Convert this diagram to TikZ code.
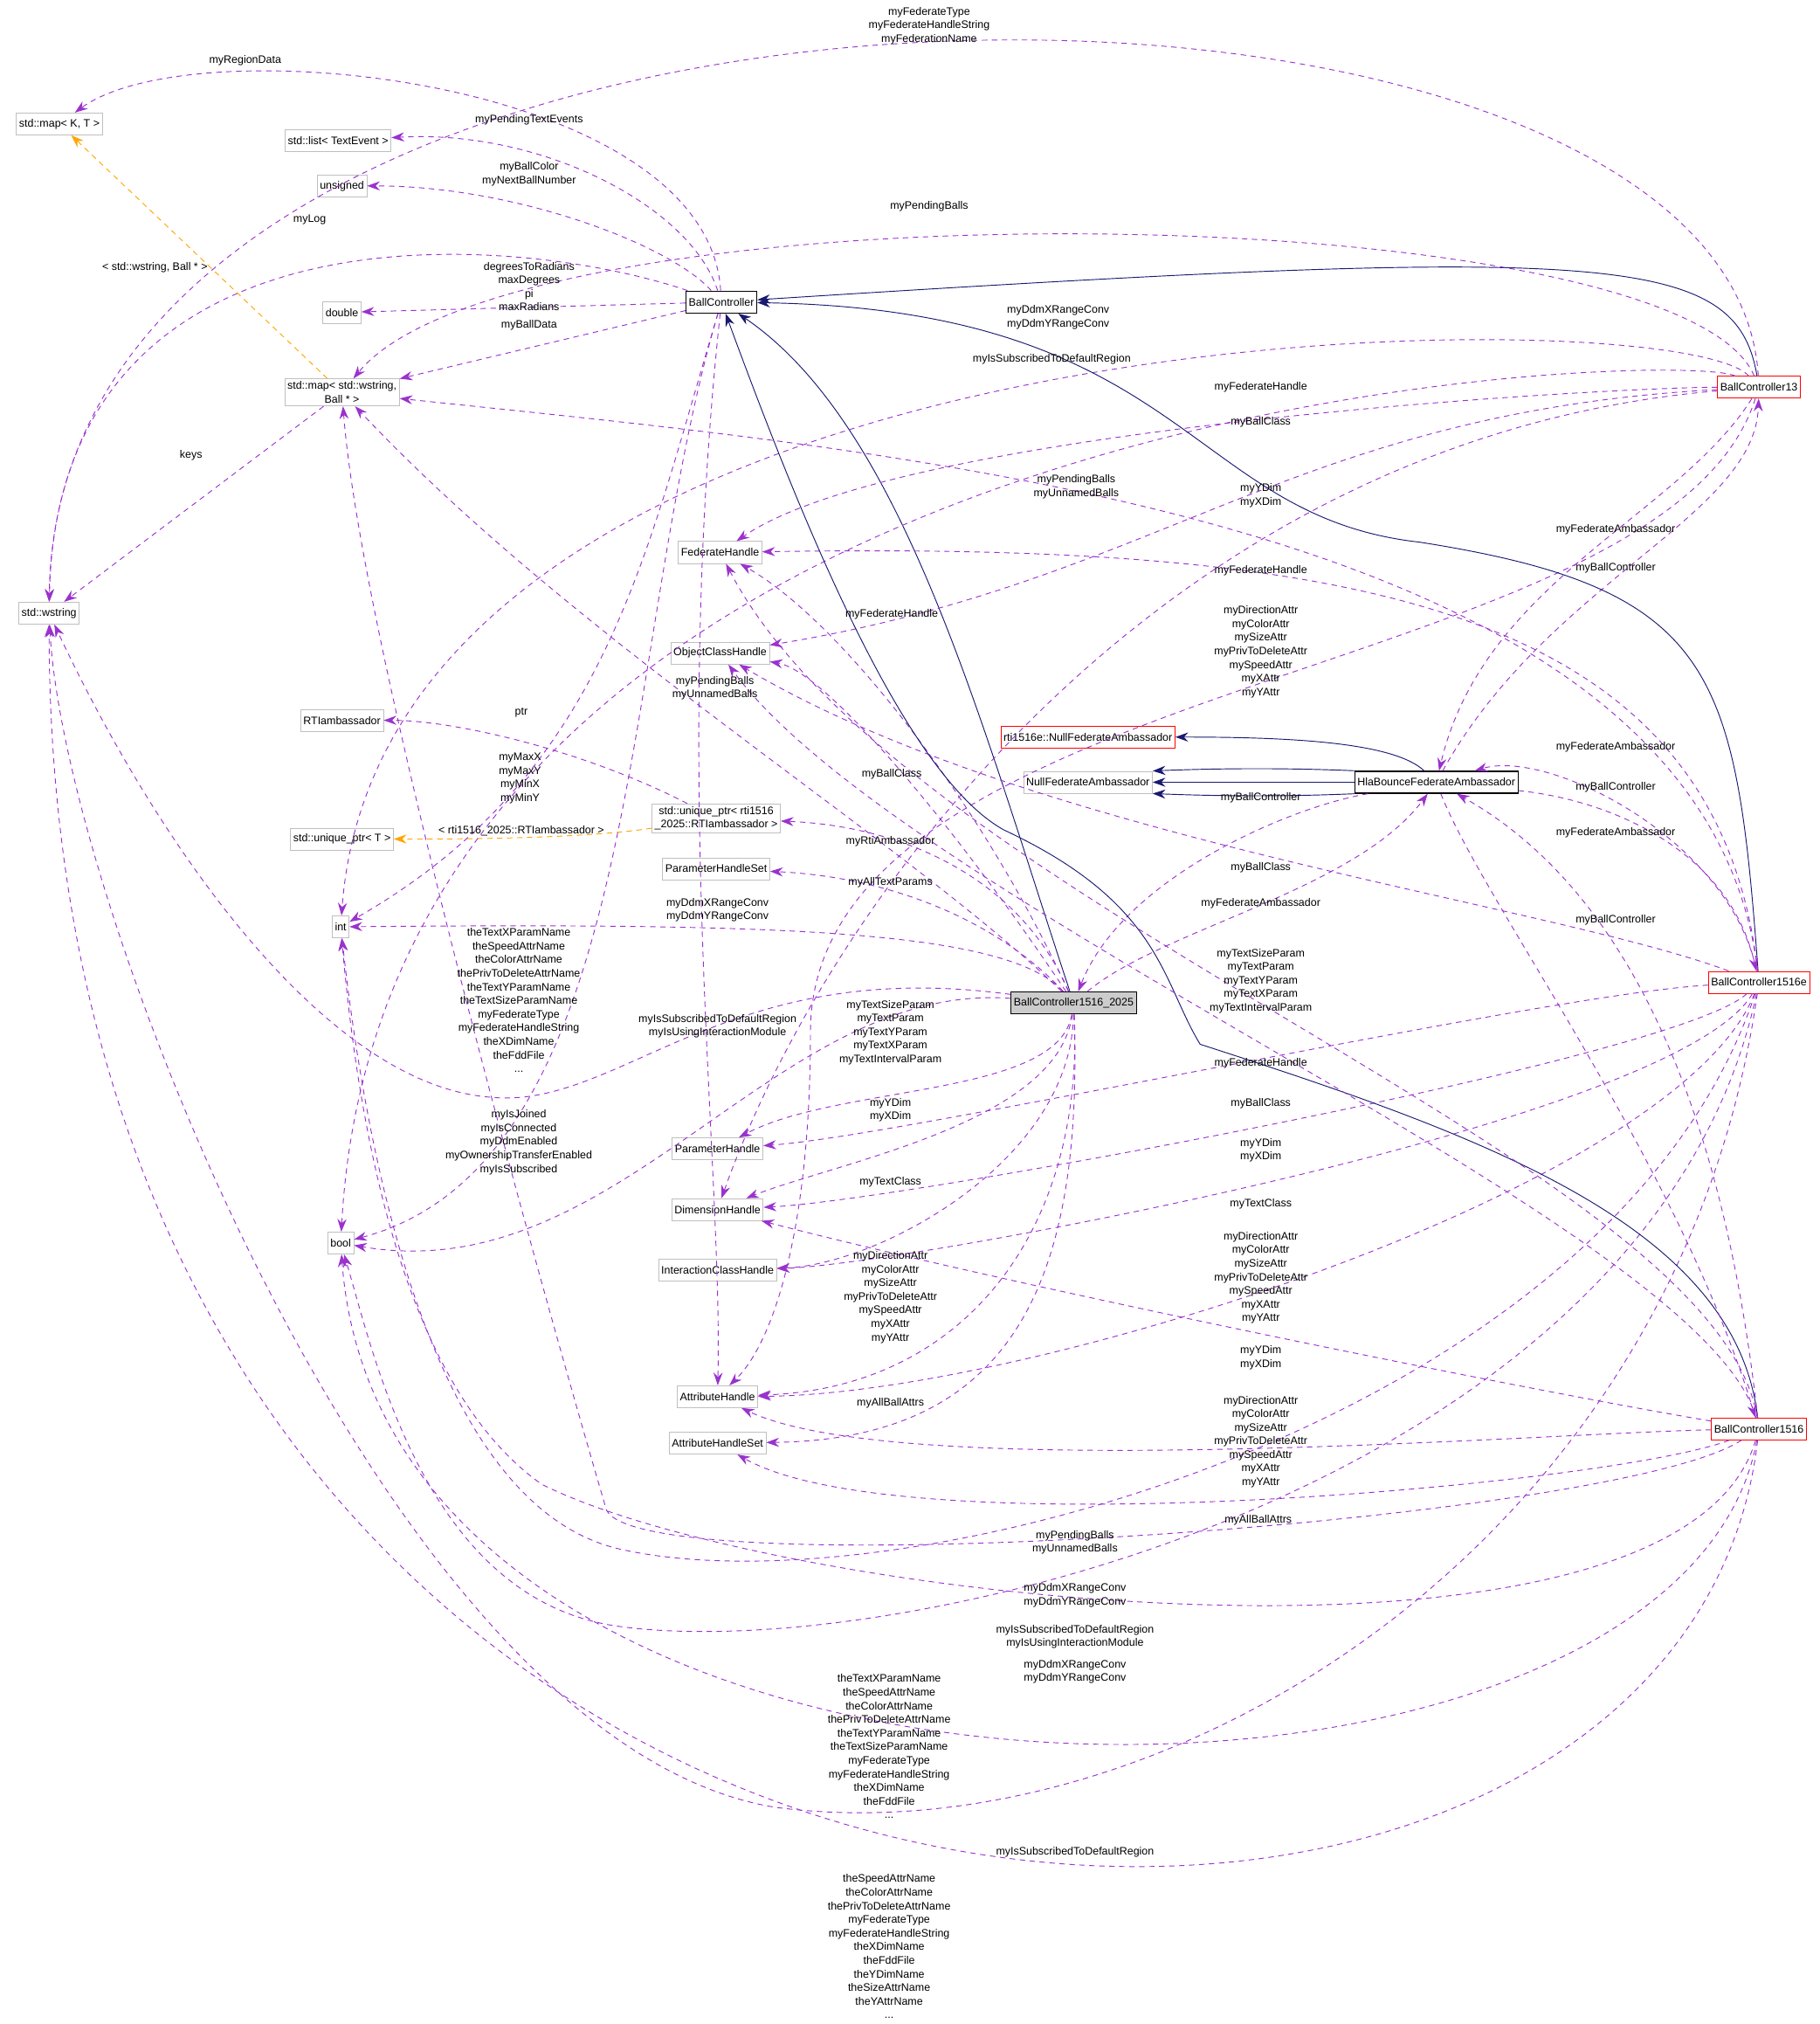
\documentclass[tikz,border=0pt]{standalone}
\usepackage{fontspec}
\setmainfont{Liberation Sans}
\usetikzlibrary{arrows.meta}
\definecolor{dep}{RGB}{154,50,205}
\definecolor{inh}{RGB}{25,25,112}
\definecolor{tmpl}{RGB}{255,165,0}
\definecolor{gbox}{RGB}{191,191,191}
\begin{document}
\begin{tikzpicture}[x=0.05cm,y=-0.05cm,
  every node/.style={font=\fontsize{12}{15}\selectfont},
  box/.style={draw=gbox,line width=0.8pt,fill=white,inner sep=3pt,minimum height=0.85cm,align=center},
  rbox/.style={box,draw=red},
  kbox/.style={box,draw=black,line width=1.2pt},
  lab/.style={align=center,inner sep=0pt},
  dep/.style={draw=dep,line width=0.9pt,dash pattern=on 6pt off 5pt,-{Stealth[length=14pt,width=10pt]}},
  inh/.style={draw=inh,line width=0.9pt,-{Stealth[length=14pt,width=10pt]}},
  tp/.style={draw=tmpl,line width=0.9pt,dash pattern=on 6pt off 5pt,-{Stealth[length=14pt,width=10pt]}}]
\useasboundingbox (0,0) rectangle (1410,1568);
% nodes
\node[box] (mapKT) at (46,96) {std::map< K, T >};
\node[box] (list) at (262,109) {std::list< TextEvent >};
\node[box] (unsigned) at (265,144) {unsigned};
\node[box] (double) at (265,242) {double};
\node[box] (mapWB) at (265,304) {std::map< std::wstring,\\Ball * >};
\node[box] (wstring) at (38,475) {std::wstring};
\node[box] (rtia) at (265,558) {RTIambassador};
\node[box] (uptrT) at (265,650) {std::unique\_ptr< T >};
\node[box] (int) at (264,718) {int};
\node[box] (bool) at (264,963) {bool};
\node[kbox] (bc) at (559,234) {BallController};
\node[box] (fedH) at (558,428) {FederateHandle};
\node[box] (objH) at (558,506) {ObjectClassHandle};
\node[box] (uptr) at (555,634) {std::unique\_ptr< rti1516\\\_2025::RTIambassador >};
\node[box] (phs) at (555,673) {ParameterHandleSet};
\node[box] (paramH) at (556,890) {ParameterHandle};
\node[box] (dimH) at (556,937) {DimensionHandle};
\node[box] (icH) at (556,984) {InteractionClassHandle};
\node[box] (attrH) at (556,1082) {AttributeHandle};
\node[box] (ahs) at (556,1118) {AttributeHandleSet};
\node[rbox] (rnfa) at (843,571) {rti1516e::NullFederateAmbassador};
\node[box] (nfa) at (843,606) {NullFederateAmbassador};
\node[kbox] (hla) at (1113,606) {HlaBounceFederateAmbassador};
\node[kbox,fill=gbox!80] (b25) at (832,777) {BallController1516\_2025};
\node[rbox] (b13) at (1363,300) {BallController13};
\node[rbox] (b16e) at (1363,761) {BallController1516e};
\node[rbox] (b16) at (1363,1107) {BallController1516};

% BallController
\draw[dep] (bc) .. controls (548,60) and (150,20) .. (mapKT);
\draw[dep] (bc) .. controls (535,160) and (420,100) .. (list);
\draw[dep] (bc) .. controls (520,190) and (400,144) .. (unsigned);
\draw[dep] (bc) .. controls (400,180) and (45,150) .. (wstring);
\draw[dep] (bc) -- (double);
\draw[dep] (bc) -- (mapWB);
\draw[dep] (bc) .. controls (500,430) and (470,600) .. (int);
\draw[dep] (bc) .. controls (480,500) and (500,900) .. (bool);
\draw[dep] (bc) .. controls (520,600) and (560,900) .. (attrH);
% templates
\draw[tp] (mapWB) -- (mapKT);
\draw[tp] (uptr) .. controls (450,650) and (350,650) .. (uptrT);
\draw[dep] (uptr) .. controls (450,580) and (350,558) .. (rtia);
\draw[dep] (mapWB) -- (wstring);
% b25
\draw[inh] (b25) .. controls (760,560) and (700,330) .. (bc);
\draw[dep] (b25) .. controls (760,620) and (650,480) .. (fedH);
\draw[dep] (b25) .. controls (700,650) and (450,500) .. (mapWB);
\draw[dep] (b25) .. controls (740,640) and (640,520) .. (objH);
\draw[dep] (b25) .. controls (790,680) and (700,640) .. (uptr);
\draw[dep] (b25) .. controls (780,720) and (700,680) .. (phs);
\draw[dep] (b25) .. controls (780,720) and (600,715) .. (int);
\draw[dep] (b25) .. controls (560,740) and (480,860) .. (380,850) .. controls (250,840) and (120,650) .. (wstring);
\draw[dep] (b25) .. controls (600,760) and (480,1000) .. (bool);
\draw[dep] (b25) .. controls (820,850) and (650,840) .. (paramH);
\draw[dep] (b25) .. controls (820,870) and (650,900) .. (dimH);
\draw[dep] (b25) .. controls (830,900) and (680,980) .. (icH);
\draw[dep] (b25) .. controls (840,950) and (750,1075) .. (attrH);
\draw[dep] (b25) .. controls (840,1000) and (780,1115) .. (ahs);
\draw[dep] (b25) .. controls (900,720) and (1050,690) .. (hla);
\draw[dep] (hla) .. controls (1000,625) and (870,680) .. (b25);
% hla
\draw[inh] (hla) .. controls (1080,575) and (1000,571) .. (rnfa);
\draw[inh] (hla) -- (nfa);
\draw[inh] (hla.north west) .. controls (1000,595) and (950,595) .. (nfa.north east);
\draw[inh] (hla.south west) .. controls (1000,617) and (950,617) .. (nfa.south east);
% b13
\draw[inh] (b13) .. controls (1345,195) and (1250,190) .. (bc);
\draw[dep] (b13) .. controls (1340,-80) and (45,-80) .. (wstring);
\draw[dep] (b13) .. controls (1300,150) and (400,140) .. (mapWB);
\draw[dep] (b13) .. controls (1300,230) and (300,230) .. (int);
\draw[dep] (b13) .. controls (1300,270) and (300,300) .. (bool);
\draw[dep] (b13) .. controls (1250,300) and (700,330) .. (fedH);
\draw[dep] (b13) .. controls (1000,320) and (900,450) .. (objH);
\draw[dep] (b13) .. controls (900,340) and (640,700) .. (dimH);
\draw[dep] (b13) .. controls (1290,530) and (628,520) .. (628,800) .. controls (628,950) and (600,1040) .. (attrH);
\draw[dep] (b13) .. controls (1300,400) and (1150,450) .. (hla);
\draw[dep] (hla) .. controls (1200,450) and (1360,400) .. (b13);
% b16e
\draw[inh] (b16e) .. controls (1345,520) and (1330,456) .. (1100,420) .. controls (920,400) and (920,240) .. (bc);
\draw[dep] (b16e) .. controls (1320,400) and (700,350) .. (mapWB);
\draw[dep] (b16e) .. controls (1330,470) and (1050,420) .. (fedH);
\draw[dep] (b16e) .. controls (1200,700) and (800,650) .. (objH);
\draw[dep] (b16e) .. controls (1340,650) and (1200,580) .. (hla);
\draw[dep] (hla) .. controls (1250,620) and (1340,660) .. (b16e);
\draw[dep] (b16e) .. controls (1200,770) and (700,880) .. (paramH);
\draw[dep] (b16e) .. controls (1300,820) and (700,930) .. (dimH);
\draw[dep] (b16e) .. controls (1300,870) and (700,980) .. (icH);
\draw[dep] (b16e) .. controls (1300,920) and (800,1080) .. (attrH);
\draw[dep] (b16e) .. controls (1250,1100) and (700,1250) .. (480,1200) .. controls (350,1170) and (290,950) .. (int);
\draw[dep] (b16e) .. controls (1280,1150) and (700,1290) .. (480,1260) .. controls (330,1240) and (290,1050) .. (bool);
\draw[dep] (b16e) .. controls (1300,1200) and (900,1440) .. (600,1400) .. controls (300,1350) and (50,700) .. (wstring);
% b16
\draw[inh] (b16) .. controls (1345,950) and (1150,880) .. (930,809) .. controls (900,760) and (900,700) .. (778,643) .. controls (700,600) and (620,400) .. (bc);
\draw[dep] (b16) .. controls (1330,900) and (700,700) .. (fedH);
\draw[dep] (b16) .. controls (1320,950) and (700,700) .. (objH);
\draw[dep] (b16) .. controls (1200,1080) and (800,1000) .. (dimH);
\draw[dep] (b16) .. controls (1200,1110) and (700,1150) .. (attrH);
\draw[dep] (b16) .. controls (1250,1150) and (700,1200) .. (ahs);
\draw[dep] (b16) .. controls (1250,1180) and (500,1230) .. (470,1170) .. controls (420,1000) and (280,500) .. (mapWB);
\draw[dep] (b16) .. controls (1300,1320) and (600,1240) .. (420,1150) .. controls (320,1080) and (280,900) .. (int);
\draw[dep] (b16) .. controls (1300,1450) and (300,1450) .. (bool);
\draw[dep] (b16) .. controls (1300,1650) and (40,1600) .. (wstring);
\draw[dep] (b16) .. controls (1340,900) and (1280,700) .. (hla);
\draw[dep] (hla) .. controls (1150,700) and (1300,900) .. (b16);

% labels
\node[lab] (l1) at (190,47) {myRegionData};
\node[lab] (l2) at (410,93) {myPendingTextEvents};
\node[lab] (l3) at (410,135) {myBallColor\\myNextBallNumber};
\node[lab] (l4) at (240,170) {myLog};
\node[lab] (l5) at (410,222) {degreesToRadians\\maxDegrees\\pi\\maxRadians};
\node[lab] (l6) at (410,252) {myBallData};
\node[lab] (l7) at (403,603) {myMaxX\\myMaxY\\myMinX\\myMinY};
\node[lab] (l8) at (402,885) {myIsJoined\\myIsConnected\\myDdmEnabled\\myOwnershipTransferEnabled\\myIsSubscribed};
\node[lab] (l9) at (120,207) {< std::wstring, Ball * >};
\node[lab] (l10) at (148,353) {keys};
\node[lab] (l11) at (404,644) {< rti1516\_2025::RTIambassador >};
\node[lab] (l12) at (404,552) {ptr};
\node[lab] (l13) at (720,20) {myFederateType\\myFederateHandleString\\myFederationName};
\node[lab] (l14) at (720,160) {myPendingBalls};
\node[lab] (l15) at (820,246) {myDdmXRangeConv\\myDdmYRangeConv};
\node[lab] (l16) at (815,278) {myIsSubscribedToDefaultRegion};
\node[lab] (l17) at (977,300) {myFederateHandle};
\node[lab] (l18) at (977,327) {myBallClass};
\node[lab] (l19) at (834,377) {myPendingBalls\\myUnnamedBalls};
\node[lab] (l20) at (977,384) {myYDim\\myXDim};
\node[lab] (l21) at (977,442) {myFederateHandle};
\node[lab] (l22) at (977,505) {myDirectionAttr\\myColorAttr\\mySizeAttr\\myPrivToDeleteAttr\\mySpeedAttr\\myXAttr\\myYAttr};
\node[lab] (l23) at (1252,410) {myFederateAmbassador};
\node[lab] (l24) at (1252,440) {myBallController};
\node[lab] (l25) at (691,476) {myFederateHandle};
\node[lab] (l26) at (554,533) {myPendingBalls\\myUnnamedBalls};
\node[lab] (l27) at (691,600) {myBallClass};
\node[lab] (l28) at (977,618) {myBallController};
\node[lab] (l29) at (1252,579) {myFederateAmbassador};
\node[lab] (l30) at (1252,610) {myBallController};
\node[lab] (l31) at (1252,645) {myFederateAmbassador};
\node[lab] (l32) at (977,672) {myBallClass};
\node[lab] (l33) at (690,652) {myRtiAmbassador};
\node[lab] (l34) at (977,700) {myFederateAmbassador};
\node[lab] (l35) at (690,684) {myAllTextParams};
\node[lab] (l36) at (556,705) {myDdmXRangeConv\\myDdmYRangeConv};
\node[lab] (l37) at (1252,713) {myBallController};
\node[lab] (l38) at (977,760) {myTextSizeParam\\myTextParam\\myTextYParam\\myTextXParam\\myTextIntervalParam};
\node[lab] (l39) at (402,775) {theTextXParamName\\theSpeedAttrName\\theColorAttrName\\thePrivToDeleteAttrName\\theTextYParamName\\theTextSizeParamName\\myFederateType\\myFederateHandleString\\theXDimName\\theFddFile\\...};
\node[lab] (l40) at (556,795) {myIsSubscribedToDefaultRegion\\myIsUsingInteractionModule};
\node[lab] (l41) at (690,800) {myTextSizeParam\\myTextParam\\myTextYParam\\myTextXParam\\myTextIntervalParam};
\node[lab] (l42) at (977,824) {myFederateHandle};
\node[lab] (l43) at (977,855) {myBallClass};
\node[lab] (l44) at (690,860) {myYDim\\myXDim};
\node[lab] (l45) at (977,891) {myYDim\\myXDim};
\node[lab] (l46) at (690,916) {myTextClass};
\node[lab] (l47) at (977,933) {myTextClass};
\node[lab] (l48) at (977,990) {myDirectionAttr\\myColorAttr\\mySizeAttr\\myPrivToDeleteAttr\\mySpeedAttr\\myXAttr\\myYAttr};
\node[lab] (l49) at (690,1005) {myDirectionAttr\\myColorAttr\\mySizeAttr\\myPrivToDeleteAttr\\mySpeedAttr\\myXAttr\\myYAttr};
\node[lab] (l50) at (977,1052) {myYDim\\myXDim};
\node[lab] (l51) at (690,1087) {myAllBallAttrs};
\node[lab] (l52) at (977,1117) {myDirectionAttr\\myColorAttr\\mySizeAttr\\myPrivToDeleteAttr\\mySpeedAttr\\myXAttr\\myYAttr};
\node[lab] (l53) at (975,1178) {myAllBallAttrs};
\node[lab] (l54) at (833,1195) {myPendingBalls\\myUnnamedBalls};
\node[lab] (l55) at (833,1236) {myDdmXRangeConv\\myDdmYRangeConv};
\node[lab] (l56) at (833,1268) {myIsSubscribedToDefaultRegion\\myIsUsingInteractionModule};
\node[lab] (l57) at (833,1295) {myDdmXRangeConv\\myDdmYRangeConv};
\node[lab] (l58) at (689,1353) {theTextXParamName\\theSpeedAttrName\\theColorAttrName\\thePrivToDeleteAttrName\\theTextYParamName\\theTextSizeParamName\\myFederateType\\myFederateHandleString\\theXDimName\\theFddFile\\...};
\node[lab] (l59) at (833,1435) {myIsSubscribedToDefaultRegion};
\node[lab] (l60) at (689,1508) {theSpeedAttrName\\theColorAttrName\\thePrivToDeleteAttrName\\myFederateType\\myFederateHandleString\\theXDimName\\theFddFile\\theYDimName\\theSizeAttrName\\theYAttrName\\...};
\end{tikzpicture}
\end{document}
